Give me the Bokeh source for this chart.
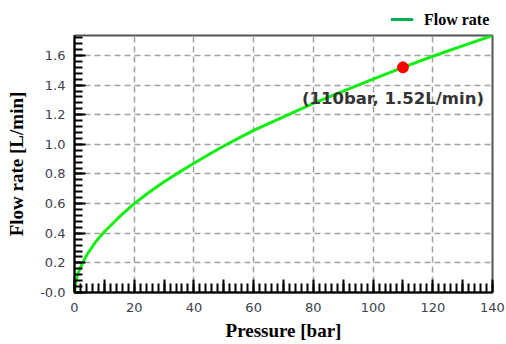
from bokeh.plotting import figure
from bokeh.layouts import column
from bokeh.models import FixedTicker, Range1d, ColumnDataSource
from bokeh.core.properties import value
from bokeh.embed import file_html
from bokeh.resources import INLINE

# ---- data ----
pressure = [0, 0.5, 1, 2, 3, 4, 5, 7, 10, 15, 20, 25, 30, 35, 40, 45, 50, 55, 60,
            70, 80, 90, 100, 110, 120, 130, 140]
flow = [0.0, 0.08, 0.12, 0.17, 0.21, 0.25, 0.28, 0.34, 0.41, 0.51, 0.60, 0.677, 0.748, 0.811,
        0.872, 0.932, 0.989, 1.042, 1.094, 1.186, 1.277, 1.36, 1.44, 1.52, 1.595, 1.665, 1.735]
point_p = [110]
point_q = [1.52]
x_ticks = [0, 10, 20, 30, 40, 50, 60, 70, 80, 90, 100, 110, 120, 130, 140]
x_labelled = [0, 20, 40, 60, 80, 100, 120, 140]
y_ticks = [0.0, 0.2, 0.4, 0.6, 0.8, 1.0, 1.2, 1.4, 1.6]
y_labels = ["-0.0", "0.2", "0.4", "0.6", "0.8", "1.0", "1.2", "1.4", "1.6"]
series_name = "Flow rate"
x_title = "Pressure [bar]"
y_title = "Flow rate [L/min]"

# ---- legend strip above the chart (pixel-space key) ----
LEG_W, LEG_H = 506, 32
key_x0, key_x1, key_y, label_x = 383, 410, 13, 423
lf = figure(width=LEG_W, height=LEG_H, output_backend="svg", toolbar_location=None,
            x_range=Range1d(0, LEG_W), y_range=Range1d(0, LEG_H),
            x_axis_type=None, y_axis_type=None, min_border=0)
lf.outline_line_color = None
lf.grid.visible = False
lf.segment(x0=[key_x0], y0=[key_y], x1=[key_x1], y1=[key_y], line_color="#00b050", line_width=3)
lf.text(x=[label_x], y=[key_y], text=[series_name], text_font=value("Liberation Serif"),
        text_font_style="bold", text_font_size="16px", text_color="black",
        text_align="left", text_baseline="middle")

# ---- main chart ----
p = figure(width=506, height=312, output_backend="svg", toolbar_location=None,
           x_range=Range1d(0, 140), y_range=Range1d(0, 1.735),
           min_border_left=74, min_border_right=14, min_border_top=3, min_border_bottom=52)
p.background_fill_color = "white"
p.border_fill_color = "white"
p.outline_line_color = "#555555"
p.outline_line_width = 2

# grid
p.xgrid.ticker = FixedTicker(ticks=[t for t in x_labelled if 0 < t < 140])
p.ygrid.ticker = FixedTicker(ticks=[t for t in y_ticks if t > 0])
for g in (p.xgrid, p.ygrid):
    g.grid_line_color = "#a0a0a0"
    g.grid_line_width = 1.5
    g.grid_line_dash = "6 4"

# x axis
xa = p.xaxis[0]
xa.ticker = FixedTicker(ticks=x_ticks, minor_ticks=[2 * i for i in range(71)])
xa.major_label_overrides = {t: (str(t) if t in x_labelled else "") for t in x_ticks}
xa.axis_label = x_title
# y axis
ya = p.yaxis[0]
ya.ticker = FixedTicker(ticks=y_ticks, minor_ticks=[round(0.04 * i, 2) for i in range(44)])
ya.major_label_overrides = dict(zip(y_ticks, y_labels))
ya.axis_label = y_title

for ax in (xa, ya):
    ax.axis_line_color = "black"
    ax.axis_line_width = 2
    ax.major_tick_out = 0
    ax.minor_tick_out = 0
    ax.major_tick_line_color = "black"
    ax.minor_tick_line_color = "black"
    ax.major_tick_line_width = 2
    ax.minor_tick_line_width = 2
    ax.major_label_text_font = "DejaVu Sans"
    ax.major_label_text_font_size = "13px"
    ax.major_label_text_color = "#404050"
    ax.axis_label_text_font = "Liberation Serif"
    ax.axis_label_text_font_style = "bold"
    ax.axis_label_text_font_size = "19px"
    ax.axis_label_text_color = "black"

xa.major_tick_in = 13
xa.minor_tick_in = 9
xa.major_label_standoff = 10
xa.axis_label_standoff = 5
ya.major_tick_in = 11
ya.minor_tick_in = 8
ya.major_label_standoff = 9
ya.axis_label_standoff = 10

# curve
src = ColumnDataSource(dict(x=pressure, y=flow))
p.line("x", "y", source=src, line_color="#11ee11", line_width=3)

# marked point + annotation
psrc = ColumnDataSource(dict(x=point_p, y=point_q,
                             t=["(%dbar, %.2fL/min)" % (a, b) for a, b in zip(point_p, point_q)]))
p.scatter("x", "y", source=psrc, size=11, fill_color="#ff0000", line_color="#ff0000")
p.text("x", "y", text="t", source=psrc, text_font=value("DejaVu Sans"), text_font_size="16.5px",
       text_font_style="bold", text_color="#333333", text_align="center", text_baseline="middle",
       x_offset=-10, y_offset=31)

layout = column(lf, p, spacing=0)
open("out.html", "w").write(file_html(layout, INLINE))
